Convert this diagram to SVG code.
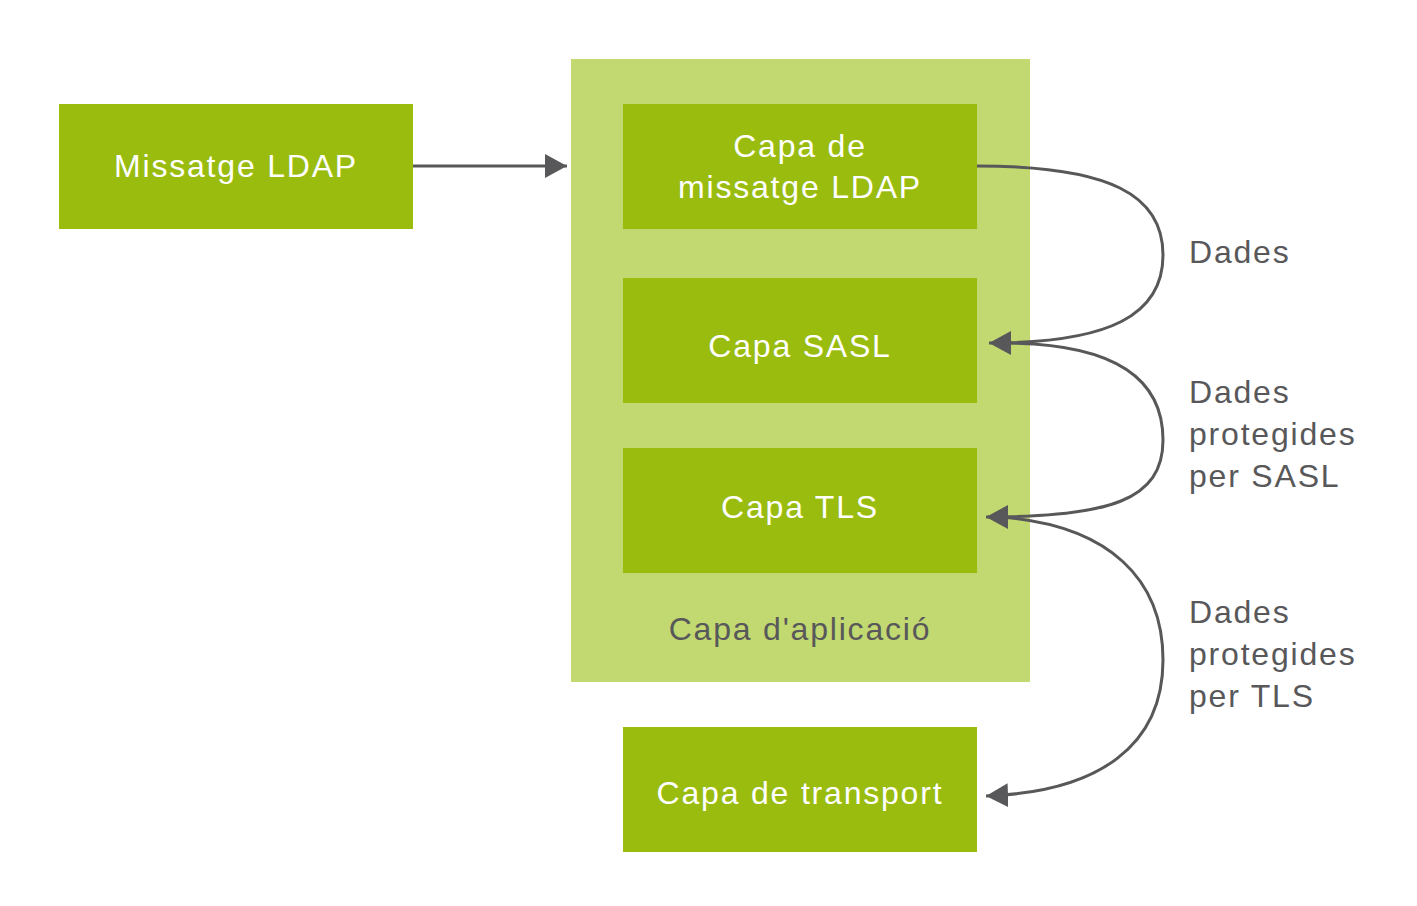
<svg xmlns="http://www.w3.org/2000/svg" width="1417" height="906" viewBox="0 0 1417 906">
<style>
.box{fill:#99bc0f}
.outer{fill:#c2d870}
.wt{fill:#ffffff;font-family:"Liberation Sans",Arial,sans-serif;font-size:32px;letter-spacing:1.8px;text-anchor:middle}
.gt{fill:#58585a;font-family:"Liberation Sans",Arial,sans-serif;font-size:32px;letter-spacing:1.8px}
.conn{fill:none;stroke:#58585a;stroke-width:3}
</style>
<defs>
<marker id="ah" markerUnits="userSpaceOnUse" markerWidth="24" markerHeight="26" refX="22" refY="12" orient="auto">
<path d="M0,0 L22,12 L0,24 Z" fill="#58585a"/>
</marker>
</defs>
<rect width="1417" height="906" fill="#ffffff"/>
<g id="app-layer">
<rect class="outer" x="571" y="59" width="459" height="623"/>
<text class="gt" x="800" y="640" text-anchor="middle">Capa d'aplicació</text>
</g>
<g id="missatge">
<rect class="box" x="59" y="104" width="354" height="125"/>
<text class="wt" x="236" y="177">Missatge LDAP</text>
</g>
<g id="capa-missatge">
<rect class="box" x="623" y="104" width="354" height="125"/>
<text class="wt" x="800" y="157">Capa de</text>
<text class="wt" x="800" y="198">missatge LDAP</text>
</g>
<g id="capa-sasl">
<rect class="box" x="623" y="278" width="354" height="125"/>
<text class="wt" x="800" y="357">Capa SASL</text>
</g>
<g id="capa-tls">
<rect class="box" x="623" y="448" width="354" height="125"/>
<text class="wt" x="800" y="518">Capa TLS</text>
</g>
<g id="capa-transport">
<rect class="box" x="623" y="727" width="354" height="125"/>
<text class="wt" x="800" y="804">Capa de transport</text>
</g>
<g id="connectors">
<path class="conn" d="M413,166 L567,166" marker-end="url(#ah)"/>
<path class="conn" d="M977,166 C1110,166 1163,195 1163,255 C1163,315 1110,343 989,343" marker-end="url(#ah)"/>
<path class="conn" d="M1003,343 C1110,343 1163,375 1163,440 C1163,500 1110,517 986,517" marker-end="url(#ah)"/>
<path class="conn" d="M1000,517 C1110,525 1163,580 1163,660 C1163,745 1100,792 986,796" marker-end="url(#ah)"/>
</g>
<g id="labels">
<text class="gt" x="1189" y="263">Dades</text>
<text class="gt" x="1189" y="403">Dades</text>
<text class="gt" x="1189" y="445">protegides</text>
<text class="gt" x="1189" y="487">per SASL</text>
<text class="gt" x="1189" y="623">Dades</text>
<text class="gt" x="1189" y="665">protegides</text>
<text class="gt" x="1189" y="707">per TLS</text>
</g>
</svg>
